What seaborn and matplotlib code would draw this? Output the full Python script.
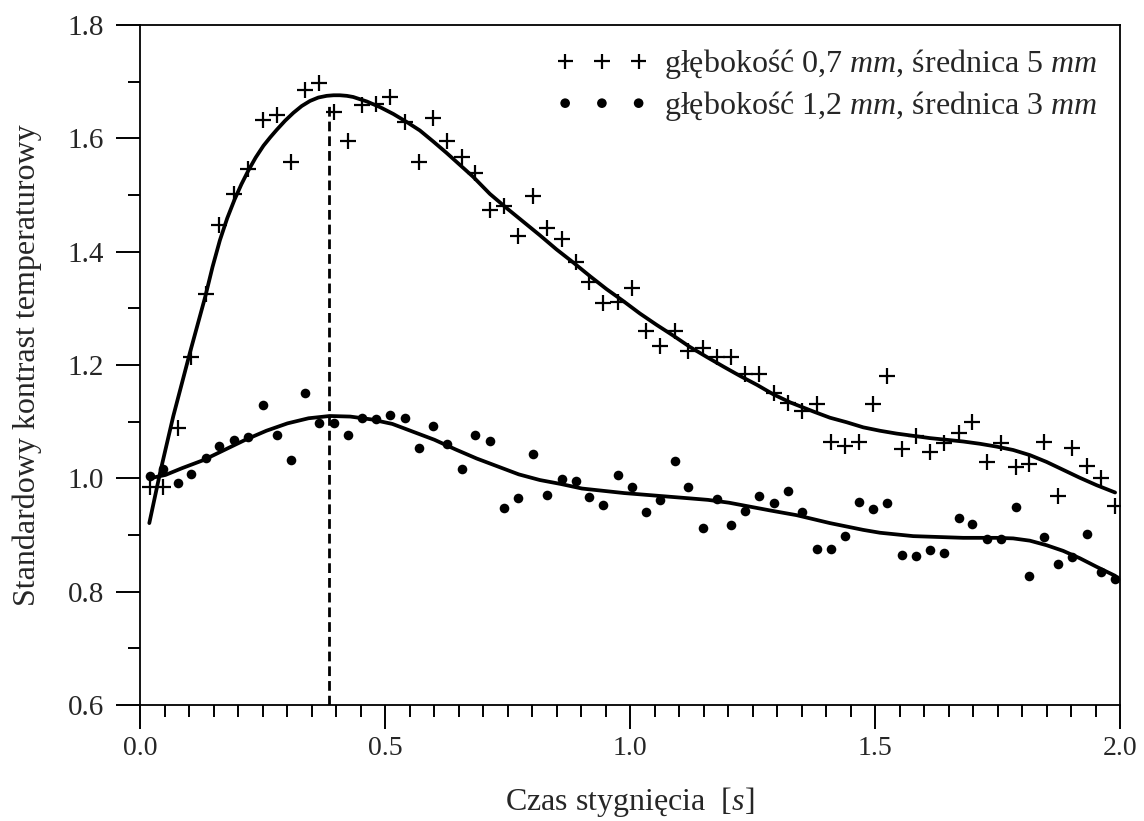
import numpy as np
import pandas as pd
import matplotlib
matplotlib.use("Agg")
import matplotlib.pyplot as plt
from matplotlib.ticker import MultipleLocator
import seaborn as sns

# --- data ---
czas = [0.020, 0.047, 0.078, 0.104, 0.135, 0.161, 0.192, 0.220, 0.251, 0.280,
        0.308, 0.337, 0.365, 0.396, 0.424, 0.453, 0.482, 0.510, 0.541, 0.569,
        0.598, 0.627, 0.657, 0.684, 0.714, 0.743, 0.771, 0.802, 0.831, 0.861,
        0.890, 0.916, 0.945, 0.976, 1.004, 1.033, 1.061, 1.092, 1.118, 1.149,
        1.178, 1.206, 1.235, 1.263, 1.294, 1.322, 1.351, 1.382, 1.410, 1.439,
        1.467, 1.496, 1.524, 1.555, 1.584, 1.612, 1.641, 1.671, 1.698, 1.729,
        1.757, 1.788, 1.814, 1.845, 1.873, 1.902, 1.933, 1.961, 1.990]

# glebokosc 0,7 mm, srednica 5 mm  (+)
kontrast_07 = [0.985, 0.985, 1.089, 1.214, 1.325, 1.447, 1.502, 1.546, 1.632, 1.641,
               1.558, 1.685, 1.698, 1.646, 1.595, 1.659, 1.661, 1.673, 1.629, 1.558,
               1.636, 1.595, 1.567, 1.539, 1.474, 1.481, 1.428, 1.498, 1.442, 1.422,
               1.382, 1.346, 1.309, 1.311, 1.336, 1.260, 1.234, 1.260, 1.225, 1.230,
               1.214, 1.214, 1.184, 1.184, 1.151, 1.133, 1.119, 1.131, 1.064, 1.057,
               1.064, 1.131, 1.181, 1.052, 1.075, 1.046, 1.062, 1.080, 1.099, 1.029,
               1.062, 1.020, 1.025, 1.064, 0.969, 1.054, 1.022, 1.001, 0.951]

# glebokosc 1,2 mm, srednica 3 mm  (dots)
kontrast_12 = [1.004, 1.016, 0.992, 1.008, 1.036, 1.057, 1.068, 1.073, 1.129, 1.076,
               1.032, 1.151, 1.098, 1.098, 1.076, 1.106, 1.105, 1.112, 1.106, 1.054,
               1.092, 1.061, 1.016, 1.076, 1.066, 0.948, 0.965, 1.043, 0.971, 0.999,
               0.995, 0.967, 0.953, 1.006, 0.985, 0.941, 0.962, 1.031, 0.985, 0.912,
               0.964, 0.918, 0.942, 0.969, 0.956, 0.978, 0.941, 0.875, 0.875, 0.898,
               0.958, 0.946, 0.956, 0.865, 0.863, 0.874, 0.868, 0.930, 0.919, 0.893,
               0.893, 0.949, 0.828, 0.896, 0.849, 0.861, 0.902, 0.835, 0.822]

# fitted curves
fit07_t = [0.019, 0.041, 0.068, 0.102, 0.133, 0.148, 0.163, 0.178, 0.193, 0.207,
           0.221, 0.236, 0.252, 0.266, 0.279, 0.296, 0.313, 0.330, 0.347, 0.364,
           0.381, 0.395, 0.408, 0.422, 0.435, 0.463, 0.490, 0.517, 0.544, 0.571,
           0.599, 0.626, 0.653, 0.680, 0.714, 0.748, 0.782, 0.816, 0.850, 0.884,
           0.918, 0.952, 0.986, 1.020, 1.054, 1.088, 1.122, 1.157, 1.191, 1.224,
           1.259, 1.293, 1.327, 1.374, 1.408, 1.442, 1.476, 1.510, 1.544, 1.578,
           1.612, 1.646, 1.680, 1.714, 1.748, 1.782, 1.816, 1.850, 1.884, 1.918,
           1.952, 1.990]
fit07_k = [0.921, 1.010, 1.110, 1.222, 1.320, 1.373, 1.420, 1.459, 1.492, 1.519,
           1.543, 1.566, 1.587, 1.602, 1.615, 1.631, 1.645, 1.657, 1.666, 1.672,
           1.675, 1.676, 1.676, 1.675, 1.673, 1.665, 1.655, 1.643, 1.629, 1.614,
           1.594, 1.574, 1.553, 1.532, 1.502, 1.477, 1.453, 1.429, 1.404, 1.381,
           1.357, 1.334, 1.313, 1.291, 1.271, 1.252, 1.232, 1.214, 1.197, 1.181,
           1.165, 1.148, 1.134, 1.118, 1.107, 1.099, 1.090, 1.084, 1.079, 1.075,
           1.071, 1.068, 1.065, 1.061, 1.056, 1.050, 1.041, 1.029, 1.015, 1.001,
           0.988, 0.975]

fit12_t = [0.020, 0.052, 0.086, 0.129, 0.172, 0.215, 0.258, 0.301, 0.344, 0.387,
           0.429, 0.472, 0.515, 0.558, 0.601, 0.644, 0.687, 0.730, 0.773, 0.816,
           0.859, 0.902, 0.945, 0.988, 1.031, 1.074, 1.117, 1.159, 1.202, 1.245,
           1.288, 1.340, 1.374, 1.408, 1.442, 1.476, 1.510, 1.544, 1.578, 1.612,
           1.646, 1.680, 1.714, 1.748, 1.782, 1.816, 1.850, 1.884, 1.918, 1.952,
           1.990]
fit12_k = [1.000, 1.006, 1.018, 1.032, 1.050, 1.068, 1.084, 1.097, 1.106, 1.110,
           1.109, 1.104, 1.096, 1.082, 1.068, 1.051, 1.035, 1.021, 1.007, 0.997,
           0.990, 0.982, 0.978, 0.974, 0.971, 0.968, 0.965, 0.962, 0.957, 0.950,
           0.943, 0.935, 0.928, 0.921, 0.915, 0.909, 0.904, 0.901, 0.898, 0.897,
           0.896, 0.895, 0.895, 0.895, 0.894, 0.890, 0.882, 0.872, 0.859, 0.844,
           0.828]

# position of the maximum (dashed line)
t_max = 0.386
k_max_line = 1.663

label_07 = r"głębokość 0,7 $\mathit{mm}$, średnica 5 $\mathit{mm}$"
label_12 = r"głębokość 1,2 $\mathit{mm}$, średnica 3 $\mathit{mm}$"

# --- style ---
sns.set_theme(style="ticks")
plt.rcParams['font.family'] = ['Liberation Serif', 'DejaVu Serif']
plt.rcParams['mathtext.fontset'] = 'custom'
plt.rcParams['mathtext.rm'] = 'Liberation Serif'
plt.rcParams['mathtext.it'] = 'Liberation Serif:italic'

fig = plt.figure(figsize=(11.44, 8.21), dpi=100)
ax = fig.add_axes([140 / 1144, 116 / 821, 980 / 1144, 680 / 821])

pts = pd.DataFrame({"czas": czas, "k07": kontrast_07, "k12": kontrast_12})

sns.scatterplot(data=pts, x="czas", y="k07", marker="+", s=120, color="black",
                linewidth=1.6, label=label_07, ax=ax)
sns.scatterplot(data=pts, x="czas", y="k12", marker="o", s=48, color="black",
                edgecolor="black", linewidth=0, label=label_12, ax=ax)

sns.lineplot(x=fit07_t, y=fit07_k, color="black", lw=2.7, legend=False,
             estimator=None, ax=ax)
sns.lineplot(x=fit12_t, y=fit12_k, color="black", lw=2.7, legend=False,
             estimator=None, ax=ax)

# dashed marker of the maximum
ax.vlines(t_max, 0.6, k_max_line, colors="black", linestyles=(0, (3.5, 1.8)), lw=2)

ax.set_xlim(0, 2.0)
ax.set_ylim(0.6, 1.8)
ax.xaxis.set_major_locator(MultipleLocator(0.5))
ax.xaxis.set_minor_locator(MultipleLocator(0.05))
ax.yaxis.set_major_locator(MultipleLocator(0.2))
ax.yaxis.set_minor_locator(MultipleLocator(0.1))
ax.xaxis.set_major_formatter(matplotlib.ticker.FormatStrFormatter('%.1f'))
ax.yaxis.set_major_formatter(matplotlib.ticker.FormatStrFormatter('%.1f'))

ax.tick_params(which="major", direction="out", length=17, width=1.4, color="black")
ax.tick_params(which="minor", direction="out", length=8.5, width=1.4, color="black")
ax.tick_params(axis="x", which="major", labelsize=20, pad=5)
ax.tick_params(axis="y", which="major", labelsize=21, pad=9)
for s in ax.spines.values():
    s.set_color("black")
    s.set_linewidth(1.3)

ax.set_xlabel(r"Czas stygnięcia  [$\mathit{s}$]", fontsize=23)
ax.set_ylabel("Standardowy kontrast temperaturowy", fontsize=23)
ax.xaxis.set_label_coords(0.5, -0.118)
ax.yaxis.set_label_coords(-0.1, 0.5)

ax.legend(loc="upper right", frameon=False, fontsize=23, scatterpoints=3,
          scatteryoffsets=[0.5], handlelength=2.9, handletextpad=0.5,
          labelspacing=0.25, borderaxespad=0.3)

fig.savefig("out.png", dpi=100, facecolor="white")
